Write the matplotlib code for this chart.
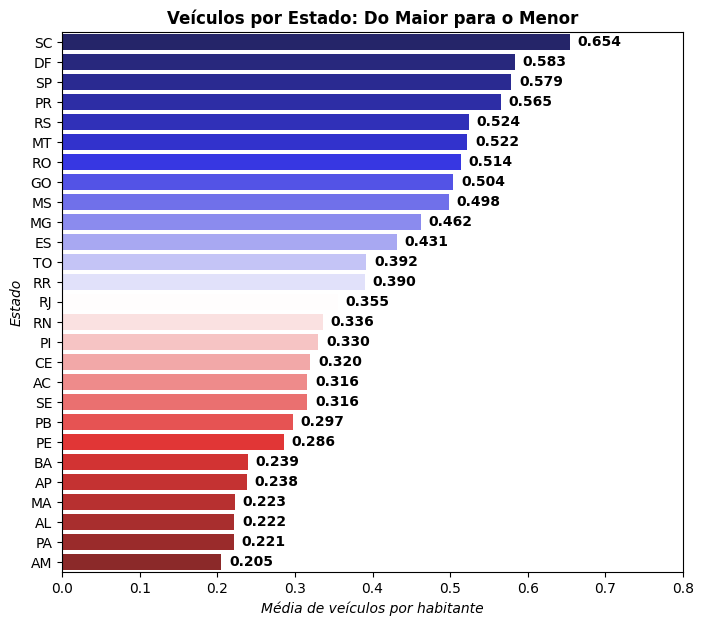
import matplotlib
matplotlib.use("Agg")
import matplotlib.pyplot as plt
import seaborn as sns
import pandas as pd

estados = ["SC", "DF", "SP", "PR", "RS", "MT", "RO", "GO", "MS", "MG", "ES", "TO", "RR", "RJ",
           "RN", "PI", "CE", "AC", "SE", "PB", "PE", "BA", "AP", "MA", "AL", "PA", "AM"]
valores = [0.654, 0.583, 0.579, 0.565, 0.524, 0.522, 0.514, 0.504, 0.498, 0.462, 0.431, 0.392, 0.390, 0.355,
           0.336, 0.330, 0.320, 0.316, 0.316, 0.297, 0.286, 0.239, 0.238, 0.223, 0.222, 0.221, 0.205]

df = pd.DataFrame({"Estado": estados, "Media": valores})

fig = plt.figure(figsize=(7.03, 6.25), dpi=100)
ax = fig.add_axes([62/703, 1 - 572/625, (683-62)/703, (572-32)/625])
sns.barplot(data=df, x="Media", y="Estado", hue="Estado", palette="seismic", legend=False, alpha=0.9, ax=ax)
for i, v in enumerate(valores):
    ax.text(v + 0.01, i, f"{v:.3f}", va="center", ha="left", fontweight="bold", fontsize=10)
ax.set_xlim(0, 0.8)
ax.set_title("Veículos por Estado: Do Maior para o Menor", fontweight="bold", fontsize=12)
ax.set_xlabel("Média de veículos por habitante", fontstyle="italic")
ax.set_ylabel("Estado", fontstyle="italic")
fig.savefig("out.png", dpi=100)
